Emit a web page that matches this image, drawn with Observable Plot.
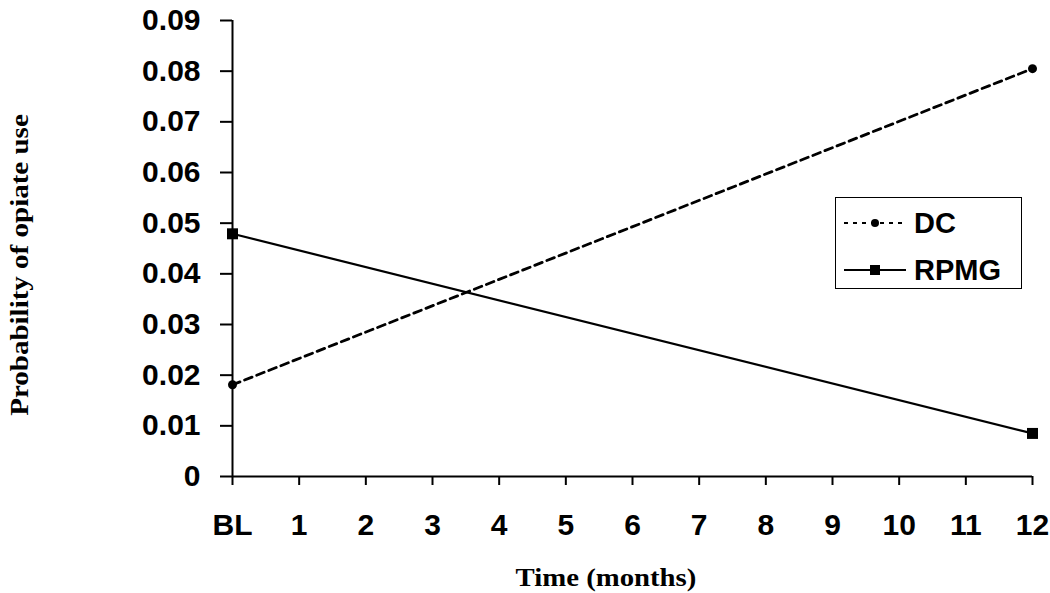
<!DOCTYPE html>
<html>
<head>
<meta charset="utf-8">
<script src="https://cdn.jsdelivr.net/npm/d3@7"></script>
<script src="https://cdn.jsdelivr.net/npm/@observablehq/plot@0.6"></script>
<style>
  html, body { margin: 0; padding: 0; background: #fff; }
  #wrap { position: relative; width: 1050px; height: 593px; overflow: hidden; }
  .axis-title { position: absolute; font-family: "Liberation Serif", "Times New Roman", serif; font-weight: bold; font-size: 25px; color: #000; white-space: nowrap; }
  #legend { position: absolute; left: 835px; top: 197px; width: 185px; height: 90px; border: 1.5px solid #000; background: #fff; font-family: "Liberation Sans", Arial, sans-serif; font-weight: bold; font-size: 29px; }
  .row { position: absolute; left: 6px; height: 30px; display: flex; align-items: center; }
  .row span { margin-left: 6px; }
</style>
</head>
<body>
<div id="wrap"></div>
<script>
// ---- data ----
const months = [0, 12];
const seriesNames = ["DC", "RPMG"];
const dcValues = [0.0181, 0.0805];
const rpmgValues = [0.0479, 0.0085];
const xTicks = [0, 1, 2, 3, 4, 5, 6, 7, 8, 9, 10, 11, 12];
const xTickLabels = ["BL", "1", "2", "3", "4", "5", "6", "7", "8", "9", "10", "11", "12"];
const yTicks = [0, 0.01, 0.02, 0.03, 0.04, 0.05, 0.06, 0.07, 0.08, 0.09];
const yTickLabels = ["0", "0.01", "0.02", "0.03", "0.04", "0.05", "0.06", "0.07", "0.08", "0.09"];
const xTitle = "Time (months)";
const yTitle = "Probability of opiate use";

const dcRows = months.map((m, i) => ({month: m, value: dcValues[i], series: seriesNames[0]}));
const rpmgRows = months.map((m, i) => ({month: m, value: rpmgValues[i], series: seriesNames[1]}));
const xDomain = [xTicks[0], xTicks[xTicks.length - 1]];
const yDomain = [yTicks[0], yTicks[yTicks.length - 1]];

const chart = Plot.plot({
  width: 1050,
  height: 593,
  marginLeft: 232,
  marginRight: 18,
  marginTop: 20,
  marginBottom: 117,
  style: {fontFamily: "'Liberation Sans', Arial, sans-serif", fontSize: "30px", fontWeight: "bold", color: "#000", background: "#fff"},
  x: {domain: xDomain},
  y: {domain: yDomain},
  marks: [
    Plot.axisY({ticks: yTicks, tickFormat: d => yTickLabels[yTicks.indexOf(d)], tickSize: 12, tickPadding: 20, strokeWidth: 2, label: null}),
    Plot.axisX({ticks: xTicks, tickFormat: d => xTickLabels[xTicks.indexOf(d)], tickSize: 9, tickPadding: 28, strokeWidth: 2, label: null}),
    Plot.ruleY([yDomain[0]], {stroke: "#000", strokeWidth: 2}),
    Plot.ruleX([xDomain[0]], {y1: yDomain[0], y2: yDomain[1], stroke: "#000", strokeWidth: 2}),
    Plot.line(dcRows, {x: "month", y: "value", stroke: "#000", strokeWidth: 2.8, strokeDasharray: "8,5"}),
    Plot.line(rpmgRows, {x: "month", y: "value", stroke: "#000", strokeWidth: 2.2}),
    Plot.dot(dcRows, {x: "month", y: "value", r: 4.5, fill: "#000", symbol: "circle"}),
    Plot.dot(rpmgRows, {x: "month", y: "value", r: 6.2, fill: "#000", symbol: "square"})
  ]
});

const wrap = document.getElementById("wrap");
wrap.appendChild(chart);

// axis titles
const xt = document.createElement("div");
xt.className = "axis-title";
xt.textContent = xTitle;
xt.style.left = "606px";
xt.style.top = "578px";
xt.style.transform = "translate(-50%, -50%) scaleX(1.15)";
wrap.appendChild(xt);

const yt = document.createElement("div");
yt.className = "axis-title";
yt.textContent = yTitle;
yt.style.left = "20px";
yt.style.top = "265px";
yt.style.transform = "translate(-50%, -50%) rotate(-90deg) scaleX(1.16)";
wrap.appendChild(yt);

// legend
const legend = document.createElement("div");
legend.id = "legend";
const rowsSpec = [
  {name: seriesNames[0], dash: "4,5", marker: "circle", top: 25},
  {name: seriesNames[1], dash: null, marker: "square", top: 72}
];
rowsSpec.forEach(s => {
  const row = document.createElement("div");
  row.className = "row";
  row.style.top = (s.top - 15) + "px";
  const svg = d3.create("svg").attr("width", 66).attr("height", 30);
  svg.append("line").attr("x1", 2).attr("x2", 64).attr("y1", 15).attr("y2", 15)
    .attr("stroke", "#000").attr("stroke-width", 2).attr("stroke-dasharray", s.dash);
  if (s.marker === "circle") svg.append("circle").attr("cx", 33).attr("cy", 15).attr("r", 4).attr("fill", "#000");
  else svg.append("rect").attr("x", 28).attr("y", 10).attr("width", 10).attr("height", 10).attr("fill", "#000");
  row.appendChild(svg.node());
  const t = document.createElement("span");
  t.textContent = s.name;
  row.appendChild(t);
  legend.appendChild(row);
});
wrap.appendChild(legend);
</script>
</body>
</html>
